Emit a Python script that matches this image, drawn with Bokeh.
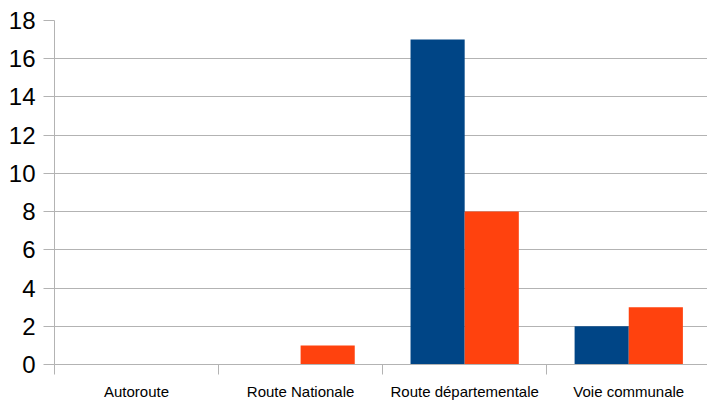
import numpy as np
from bokeh.plotting import figure
from bokeh.models import ColumnDataSource, Range1d, FixedTicker
from bokeh.transform import dodge
from bokeh.embed import file_html
from bokeh.resources import INLINE

categories = ["Autoroute", "Route Nationale", "Route départementale", "Voie communale"]
series_a = [0, 0, 17, 2]
series_b = [0, 1, 8, 3]
y_ticks = [0, 2, 4, 6, 8, 10, 12, 14, 16, 18]

BLUE = "#004586"
ORANGE = "#ff420e"
GRID = "#b3b3b3"

centers = list(np.arange(len(categories)) + 0.5)
src = ColumnDataSource(dict(x=centers, a=series_a, b=series_b))

p = figure(width=707, height=403, output_backend="svg", toolbar_location=None,
           x_range=Range1d(0, 3.98), y_range=Range1d(0, 18),
           min_border_left=54, min_border_right=0, min_border_top=20, min_border_bottom=39)
p.outline_line_color = None
p.background_fill_color = "white"

bw = 0.33
p.vbar(x=dodge("x", -bw / 2, range=p.x_range), top="a", width=bw, source=src,
       fill_color=BLUE, line_color=None)
p.vbar(x=dodge("x", bw / 2, range=p.x_range), top="b", width=bw, source=src,
       fill_color=ORANGE, line_color=None)

# x axis
xa = p.xaxis[0]
xa.ticker = FixedTicker(ticks=centers, minor_ticks=list(range(len(categories) + 1)))
xa.major_label_overrides = {c: name for c, name in zip(centers, categories)}
xa.major_tick_line_color = None
xa.major_tick_out = 0
xa.major_tick_in = 0
xa.minor_tick_line_color = GRID
xa.minor_tick_out = 10
xa.minor_tick_in = 0
xa.axis_line_color = GRID
xa.major_label_text_font = "Liberation Sans"
xa.major_label_text_font_size = "15px"
xa.major_label_text_color = "black"
xa.major_label_standoff = 8

# y axis
ya = p.yaxis[0]
ya.ticker = FixedTicker(ticks=y_ticks)
ya.major_tick_out = 11
ya.major_tick_in = 0
ya.major_tick_line_color = GRID
ya.minor_tick_line_color = None
ya.axis_line_color = GRID
ya.major_label_text_font = "Liberation Sans"
ya.major_label_text_font_size = "24px"
ya.major_label_text_color = "black"
ya.major_label_standoff = 8

p.xgrid.grid_line_color = None
p.ygrid.grid_line_color = GRID
p.ygrid.ticker = FixedTicker(ticks=y_ticks)

open("out.html", "w").write(file_html(p, INLINE))
